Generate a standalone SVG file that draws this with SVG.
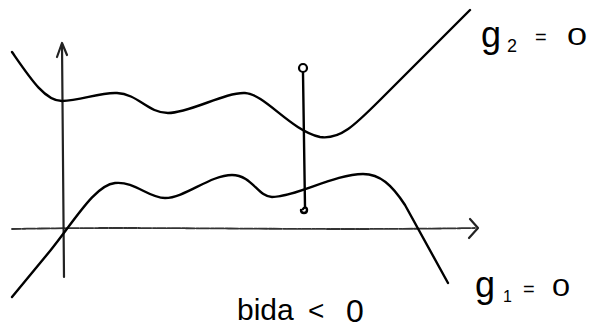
<svg xmlns="http://www.w3.org/2000/svg" width="597" height="328" viewBox="0 0 597 328">
<style>
.c{fill:none;stroke:#000;stroke-width:2.4;stroke-linecap:round;stroke-linejoin:round}
.ax{fill:none;stroke:#222;stroke-width:2.2;stroke-linecap:round;stroke-linejoin:round}
.axh{fill:none;stroke:#333;stroke-width:1.8;stroke-dasharray:9 1.5 3 1;stroke-linecap:round}
.t{font-family:"Liberation Sans",Arial,sans-serif;fill:#000}
</style>
<rect width="597" height="328" fill="#fff"/>
<g id="axes">
  <path class="axh" d="M12,229 C150,226 300,231 475,228"/>
  <path class="ax" d="M470,219 L478,228 L469,238"/>
  <path class="ax" d="M64,277 L62,44"/>
  <path class="ax" d="M57,57 L62,43 L67,55"/>
</g>
<g id="g2-curve">
  <path class="c" d="M12,52 C30,78 45,101 62,101 C80,101 100,92 117,93 C138,94 148,113 168,113 C190,113 225,92 245,93 C265,94 290,130 320,137 C340,140 355,125 380,100 L470,10"/>
</g>
<g id="g1-curve">
  <path class="c" d="M12,297 L50,251 C75,220 95,185 115,183 C135,181 148,198 165,198 C185,198 210,175 232,175 C252,175 258,197 272,197 C295,197 335,174 363,174 C380,174 392,185 405,205 L448,283"/>
</g>
<g id="segment">
  <path class="c" d="M303,73 L305,207"/>
  <circle cx="303" cy="68" r="4" fill="none" stroke="#000" stroke-width="2.2"/>
  <path class="c" d="M301,210 C301,214 307,214 307,210 C307,207 304,207 303,209"/>
</g>
<g id="labels">
  <text class="t" x="481" y="47" font-size="36">g</text>
  <text class="t" x="507" y="52" font-size="18">2</text>
  <text class="t" x="535" y="44" font-size="20">=</text>
  <text class="t" x="567" y="45" font-size="24" transform="translate(567,0) scale(1.5,1) translate(-567,0)">0</text>
  <text class="t" x="475" y="297" font-size="36">g</text>
  <text class="t" x="503" y="302" font-size="16">1</text>
  <text class="t" x="523" y="296" font-size="20">=</text>
  <text class="t" x="552" y="296" font-size="24" transform="translate(552,0) scale(1.35,1) translate(-552,0)">0</text>
  <text class="t" x="237" y="320" font-size="30">bida</text>
  <text class="t" x="308" y="320" font-size="28">&lt;</text>
  <text class="t" x="346" y="322" font-size="32">0</text>
</g>
</svg>
